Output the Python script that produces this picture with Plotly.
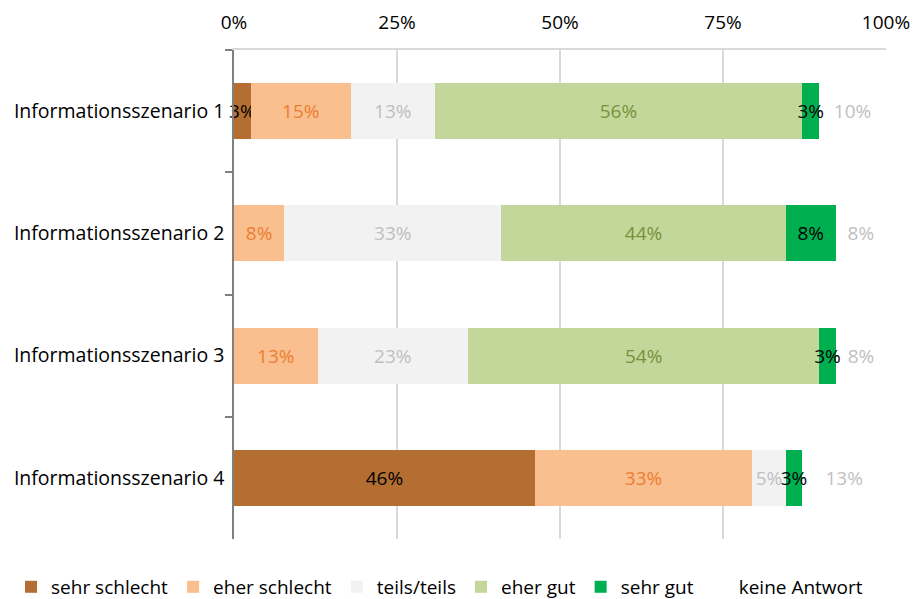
import plotly.graph_objects as go

categories = ["Informationsszenario 1", "Informationsszenario 2", "Informationsszenario 3", "Informationsszenario 4"]
series_names = ["sehr schlecht", "eher schlecht", "teils/teils", "eher gut", "sehr gut", "keine Antwort"]
sehr_schlecht = [2.56, 0.0, 0.0, 46.15]
eher_schlecht = [15.38, 7.69, 12.82, 33.33]
teils_teils = [12.82, 33.33, 23.08, 5.13]
eher_gut = [56.41, 43.59, 53.85, 0.0]
sehr_gut = [2.56, 7.69, 2.56, 2.56]
keine_antwort = [10.26, 7.69, 7.69, 12.82]
tick_values = [0, 25, 50, 75, 100]
tick_labels = ["0%", "25%", "50%", "75%", "100%"]

series_values = [sehr_schlecht, eher_schlecht, teils_teils, eher_gut, sehr_gut, keine_antwort]
fill_colors = ["#B46E32", "#F9BF8F", "#F2F2F2", "#C4D79B", "#00B050", "rgba(255,255,255,0)"]
text_colors = ["#000000", "#ED7D31", "#BFBFBF", "#76923C", "#000000", "#BFBFBF"]

FONT = "Open Sans"
FS = 19

fig = go.Figure()
for name, vals, fc, tc in zip(series_names, series_values, fill_colors, text_colors):
    texts = [f"{v:.0f}%" if v > 0 else "" for v in vals]
    fig.add_trace(go.Bar(
        name=name, y=categories, x=vals, orientation="h",
        marker=dict(color=fc, line=dict(width=0)),
        text=texts, textposition="inside", insidetextanchor="middle", textangle=0,
        textfont=dict(color=tc, size=FS, family=FONT),
        cliponaxis=False, hoverinfo="skip",
    ))

fig.update_layout(
    barmode="stack",
    bargap=0.54,
    width=920, height=599,
    margin=dict(l=234, r=34, t=50, b=60, autoexpand=False),
    paper_bgcolor="white", plot_bgcolor="white",
    font=dict(family=FONT, size=FS, color="#000000"),
    uniformtext=dict(mode="show", minsize=FS),
    legend=dict(orientation="h", x=-0.342, xanchor="left", y=-0.098, yanchor="middle",
                font=dict(size=FS, family=FONT), traceorder="normal"),
    xaxis=dict(side="top", range=[0, 100], tickvals=tick_values, ticktext=tick_labels,
               showgrid=True, gridcolor="#D9D9D9", gridwidth=1.5, zeroline=False,
               showline=True, linecolor="#D9D9D9", linewidth=1.5, ticks="",
               ticklabelstandoff=12,
               tickfont=dict(size=FS, family=FONT), automargin=False),
    yaxis=dict(autorange="reversed", showline=True, linecolor="#808080", linewidth=1.5,
               ticks="outside", tickson="boundaries", ticklen=7, tickcolor="#808080",
               tickwidth=1.5, tickfont=dict(size=19.5, family=FONT), showgrid=False,
               ticklabelstandoff=4, automargin=False),
)

fig.write_html("out.html", config={"displayModeBar": False},
               post_script="document.body.style.margin='0';")
